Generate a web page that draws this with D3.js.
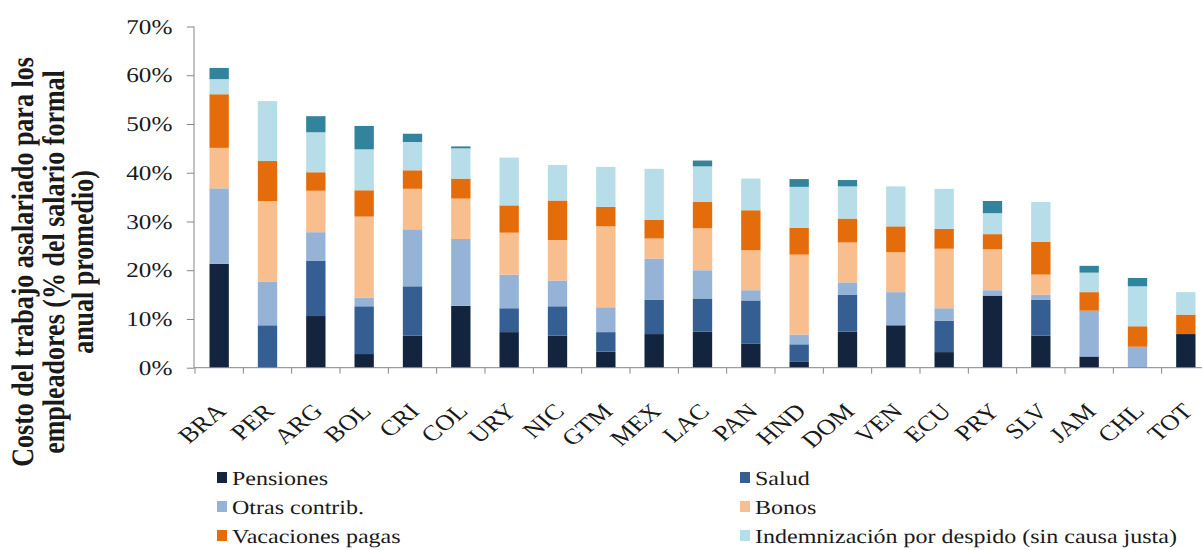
<!DOCTYPE html>
<html>
<head>
<meta charset="utf-8">
<script src="https://cdn.jsdelivr.net/npm/d3@7"></script>
<style>
  html, body { margin: 0; padding: 0; background: #fff; }
  svg { display: block; }
  text { font-family: "Liberation Serif", "Times New Roman", serif; fill: #1a1a1a; text-rendering: geometricPrecision; }
</style>
</head>
<body>
<div id="chart"></div>
<script>
var categories = ["BRA","PER","ARG","BOL","CRI","COL","URY","NIC","GTM","MEX","LAC","PAN","HND","DOM","VEN","ECU","PRY","SLV","JAM","CHL","TOT"];

// % del salario formal anual promedio
var pensiones     = [21.3, 0,   10.6, 2.8,  6.6,  12.7, 7.3, 6.6, 3.3,  6.9,  7.4, 4.9, 1.2,  7.4, 8.7, 3.2,  14.8, 6.6, 2.3, 0,   6.9];
var salud         = [0,    8.7, 11.3, 9.8,  10.1, 0,    4.9, 6.0, 4.0,  7.0,  6.8, 8.9, 3.6,  7.6, 0,   6.4,  0,    7.3, 0,   0,   0];
var otrasContrib  = [15.5, 8.9, 5.9,  1.8,  11.7, 13.7, 6.9, 5.3, 5.1,  8.5,  5.8, 2.1, 2.0,  2.5, 6.8, 2.6,  1.1,  1.1, 9.4, 4.3, 0];
var bonos         = [8.3,  16.6,8.5,  16.6, 8.3,  8.3,  8.6, 8.3, 16.6, 4.1,  8.6, 8.2, 16.4, 8.2, 8.2, 12.2, 8.4,  4.1, 0,   0,   0];
var vacaciones    = [11.0, 8.2, 3.8,  5.4,  3.8,  4.1,  5.6, 8.1, 4.0,  3.8,  5.4, 8.2, 5.5,  4.9, 5.3, 4.1,  3.1,  6.7, 3.8, 4.2, 4.0];
var indemnizacion = [3.1,  12.3,8.2,  8.4,  5.8,  6.2,  9.8, 7.3, 8.2,  10.5, 7.3, 6.5, 8.4,  6.6, 8.2, 8.2,  4.3,  8.2, 4.0, 8.2, 4.6];
var otros         = [2.3,  0,   3.3,  4.8,  1.7,  0.4,  0,   0,   0,    0,    1.2, 0,   1.6,  1.3, 0,   0,    2.5,  0,   1.4, 1.7, 0];

var yTicks = [0, 10, 20, 30, 40, 50, 60, 70];

var seriesNames = ["Pensiones", "Salud", "Otras contrib.", "Bonos", "Vacaciones pagas",
                   "Indemnización por despido (sin causa justa)", "Otros"];
var seriesValues = [pensiones, salud, otrasContrib, bonos, vacaciones, indemnizacion, otros];
var colors = ["#13243f", "#355f93", "#95b3d7", "#f9be8e", "#e46c0a", "#b7dde8", "#31849b"];

// the reference picture is stretched sideways, so draw in narrower units and let the viewBox widen it
var W = 1202, H = 550, stretch = 1.2;
var vbW = W / stretch;

var svg = d3.select("#chart").append("svg")
    .attr("width", W)
    .attr("height", H)
    .attr("viewBox", "0 0 " + vbW + " " + H)
    .attr("preserveAspectRatio", "none");

var rows = categories.map(function(c, i){
    var r = { cat: c };
    seriesNames.forEach(function(n, k){ r[n] = seriesValues[k][i]; });
    return r;
});

var stack = d3.stack().keys(seriesNames)(rows);

var x = d3.scaleBand()
    .domain(categories)
    .range([195 / stretch, 1210 / stretch])
    .paddingInner(0.6)
    .paddingOuter(0.3);

var y = d3.scaleLinear()
    .domain([0, 70])
    .range([367.7, 26.5]);

// bars
svg.append("g").selectAll("g")
    .data(stack)
    .enter().append("g")
    .attr("fill", function(d, i){ return colors[i]; })
    .selectAll("rect")
    .data(function(d){ return d; })
    .enter().append("rect")
    .attr("x", function(d){ return x(d.data.cat); })
    .attr("y", function(d){ return y(d[1]); })
    .attr("width", x.bandwidth())
    .attr("height", function(d){ return y(d[0]) - y(d[1]); });

// y axis
var yAxis = svg.append("g")
    .attr("transform", "translate(" + (194 / stretch) + ",0)")
    .call(d3.axisLeft(y).tickValues(yTicks).tickSize(6).tickPadding(12)
        .tickFormat(function(d){ return d + "%"; }));
yAxis.selectAll("line, path").attr("stroke", "#868686").attr("vector-effect", "non-scaling-stroke");
yAxis.select(".domain").attr("d", "M0," + y(70) + "V" + y(0));
yAxis.selectAll("text")
    .style("font-family", "Liberation Serif, serif")
    .style("font-size", "21px")
    .attr("fill", "#1a1a1a");

// x axis: ticks sit between the categories
var xAxisG = svg.append("g")
    .attr("transform", "translate(0," + y(0) + ")");
xAxisG.append("line")
    .attr("x1", 194 / stretch).attr("x2", vbW)
    .attr("stroke", "#868686").attr("vector-effect", "non-scaling-stroke");
xAxisG.selectAll(".sep")
    .data(categories)
    .enter().append("line")
    .attr("class", "sep")
    .attr("x1", function(d){ return x(d) - x.step() * x.paddingInner() / 2; })
    .attr("x2", function(d){ return x(d) - x.step() * x.paddingInner() / 2; })
    .attr("y1", 0).attr("y2", 6)
    .attr("stroke", "#868686").attr("vector-effect", "non-scaling-stroke");
xAxisG.selectAll(".lab")
    .data(categories)
    .enter().append("text")
    .attr("class", "lab")
    .attr("transform", function(d){
        return "translate(" + (x(d) + x.bandwidth() / 2 - 4) + ",34) rotate(-45)";
    })
    .attr("text-anchor", "end")
    .attr("dy", "0.7em")
    .style("font-size", "22px")
    .text(function(d){ return d; });

// y axis title, three lines
var titleLines = ["Costo del trabajo asalariado para los", "empleadores (% del salario formal", "anual promedio)"];
var titleX = [33, 64, 93];
svg.append("g").selectAll("text")
    .data(titleLines)
    .enter().append("text")
    .attr("transform", function(d, i){ return "translate(" + (titleX[i] / stretch) + ",262) rotate(-90)"; })
    .attr("text-anchor", "middle")
    .style("font-size", "26px")
    .style("font-weight", "bold")
    .text(function(d){ return d; });

// legend (the seventh entry falls below the picture)
var legendX = [217, 740], legendY = [485, 514, 543];
var legend = svg.append("g").selectAll("g")
    .data(seriesNames.slice(0, 6))
    .enter().append("g")
    .attr("transform", function(d, i){
        return "translate(" + (legendX[i % 2] / stretch) + "," + legendY[Math.floor(i / 2)] + ")";
    });
legend.append("rect")
    .attr("x", 0).attr("y", -13)
    .attr("width", 10 / stretch).attr("height", 11)
    .attr("fill", function(d, i){ return colors[i]; });
legend.append("text")
    .attr("x", 15 / stretch)
    .attr("y", 0)
    .style("font-size", "20px")
    .text(function(d){ return d; });
</script>
</body>
</html>
